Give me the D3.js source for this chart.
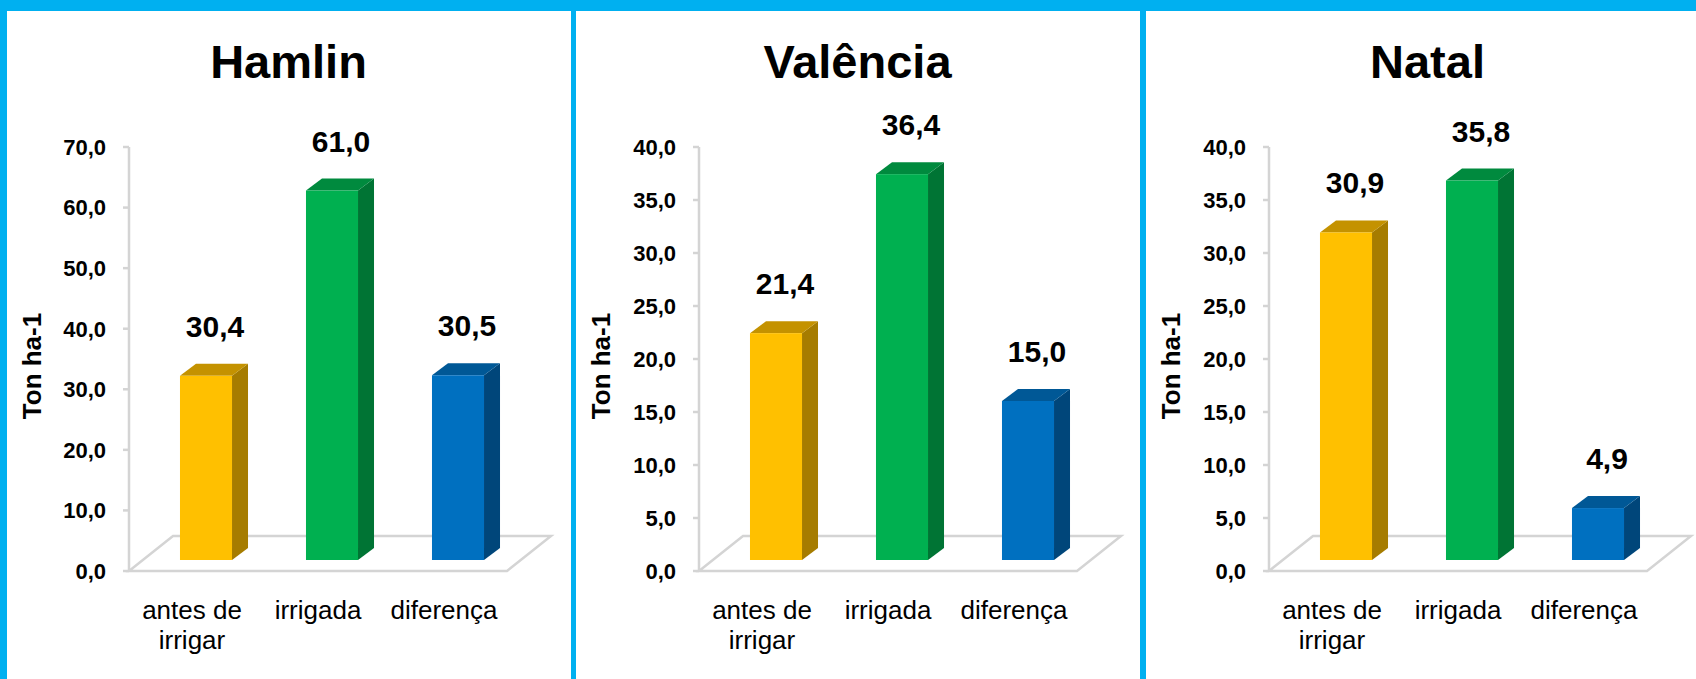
<!DOCTYPE html>
<html>
<head>
<meta charset="utf-8">
<script src="https://cdnjs.cloudflare.com/ajax/libs/d3/7.8.5/d3.min.js"></script>
<style>
  html, body { margin: 0; padding: 0; background: #fff; }
  svg { display: block; font-family: "Liberation Sans", Arial, sans-serif; }
</style>
</head>
<body>
<svg id="chart" width="1696" height="679"></svg>
<script>
// ---- data ----
const panelTitles = ["Hamlin", "Valência", "Natal"];
const categories = ["antes de irrigar", "irrigada", "diferença"];
const categoryLines = [["antes de", "irrigar"], ["irrigada"], ["diferença"]];
const hamlinValues = [30.4, 61.0, 30.5];
const valenciaValues = [21.4, 36.4, 15.0];
const natalValues = [30.9, 35.8, 4.9];
const hamlinTicks = [0, 10, 20, 30, 40, 50, 60, 70];
const valenciaTicks = [0, 5, 10, 15, 20, 25, 30, 35, 40];
const natalTicks = [0, 5, 10, 15, 20, 25, 30, 35, 40];
const yTitle = "Ton ha-1";

const seriesValues = [hamlinValues, valenciaValues, natalValues];
const seriesTicks = [hamlinTicks, valenciaTicks, natalTicks];

// ---- styles ----
const frameBlue = "#00B0F0";
const barColors = [
  { front: "#FFC000", side: "#A67C00", top: "#C49200" },
  { front: "#00B050", side: "#007434", top: "#008A3E" },
  { front: "#0070C0", side: "#00467A", top: "#005896" }
];
const gridGray = "#D4D4D4";
const fmt = v => d3.format(".1f")(v).replace(".", ",");

const svg = d3.select("#chart");
svg.append("rect").attr("x", 0).attr("y", 0).attr("width", 1696).attr("height", 679).attr("fill", frameBlue);

const panelLefts = [7, 576, 1146];
const panelWidths = [564, 564, 550];
panelLefts.forEach((l, i) => {
  svg.append("rect").attr("x", l).attr("y", 11).attr("width", panelWidths[i]).attr("height", 668).attr("fill", "#fff");
});

const floorW = 378, depthX = 44, depthY = 35;
const barDX = 16, barDY = 12, barOffX = 14, barOffY = 11;

panelTitles.forEach((title, i) => {
  const ax = 129 + 570 * i;
  const values = seriesValues[i];
  const ticks = seriesTicks[i];
  const g = svg.append("g");

  const y = d3.scaleLinear().domain([0, d3.max(ticks)]).range([571, 147]);
  const x = d3.scaleBand().domain(categories).range([ax, ax + floorW])
    .paddingInner(0.587).paddingOuter(0.2935);
  const step = x.step();
  const y0 = y(0);

  // title
  g.append("text").attr("x", panelLefts[i] + 281.5).attr("y", 78)
    .attr("text-anchor", "middle").attr("font-weight", "bold").attr("font-size", 47)
    .attr("fill", "#000").text(title);

  // floor
  const floorPts = [[ax, y0], [ax + floorW, y0], [ax + floorW + depthX, y0 - depthY], [ax + depthX, y0 - depthY]];
  g.append("path").attr("d", d3.line()(floorPts) + "Z")
    .attr("fill", "none").attr("stroke", gridGray).attr("stroke-width", 2.5).attr("stroke-linejoin", "miter");

  // y axis line and ticks
  g.append("line").attr("x1", ax).attr("x2", ax).attr("y1", y(d3.max(ticks))).attr("y2", y0)
    .attr("stroke", gridGray).attr("stroke-width", 2.5);
  g.selectAll(".tk").data(ticks).enter().append("line")
    .attr("x1", ax - 6).attr("x2", ax).attr("y1", d => y(d)).attr("y2", d => y(d))
    .attr("stroke", gridGray).attr("stroke-width", 2.5);
  g.selectAll(".tl").data(ticks).enter().append("text")
    .attr("x", ax - 23).attr("y", d => y(d)).attr("dy", "0.36em")
    .attr("text-anchor", "end").attr("font-weight", "bold").attr("font-size", 22)
    .attr("fill", "#000").text(d => fmt(d));

  // y title
  g.append("text").attr("transform", `translate(${panelLefts[i] + 25},366) rotate(-90)`)
    .attr("text-anchor", "middle").attr("dy", "0.36em")
    .attr("font-weight", "bold").attr("font-size", 26).attr("fill", "#000").text(yTitle);

  // bars
  categories.forEach((c, k) => {
    const v = values[k];
    const c3 = barColors[k];
    const x0 = x(c) + barOffX, x1 = x0 + x.bandwidth();
    const yb = y0 - barOffY, yt = y(v) - barOffY;
    // side
    g.append("path").attr("d", d3.line()([[x1, yb], [x1 + barDX, yb - barDY], [x1 + barDX, yt - barDY], [x1, yt]]) + "Z")
      .attr("fill", c3.side);
    // top
    g.append("path").attr("d", d3.line()([[x0, yt], [x0 + barDX, yt - barDY], [x1 + barDX, yt - barDY], [x1, yt]]) + "Z")
      .attr("fill", c3.top);
    // front
    g.append("rect").attr("x", x0).attr("y", yt).attr("width", x1 - x0).attr("height", yb - yt)
      .attr("fill", c3.front);
    // value label
    g.append("text").attr("x", (x0 + x1 + barDX) / 2 + 1).attr("y", yt - barDY - 27)
      .attr("text-anchor", "middle").attr("font-weight", "bold").attr("font-size", 30)
      .attr("fill", "#000").text(fmt(v));
    // category label
    const cx = x(c) - (step - x.bandwidth()) / 2 + step / 2;
    categoryLines[k].forEach((ln, j) => {
      g.append("text").attr("x", cx).attr("y", 619 + 30 * j)
        .attr("text-anchor", "middle").attr("font-size", 26).attr("fill", "#000").text(ln);
    });
  });
});
</script>
</body>
</html>
